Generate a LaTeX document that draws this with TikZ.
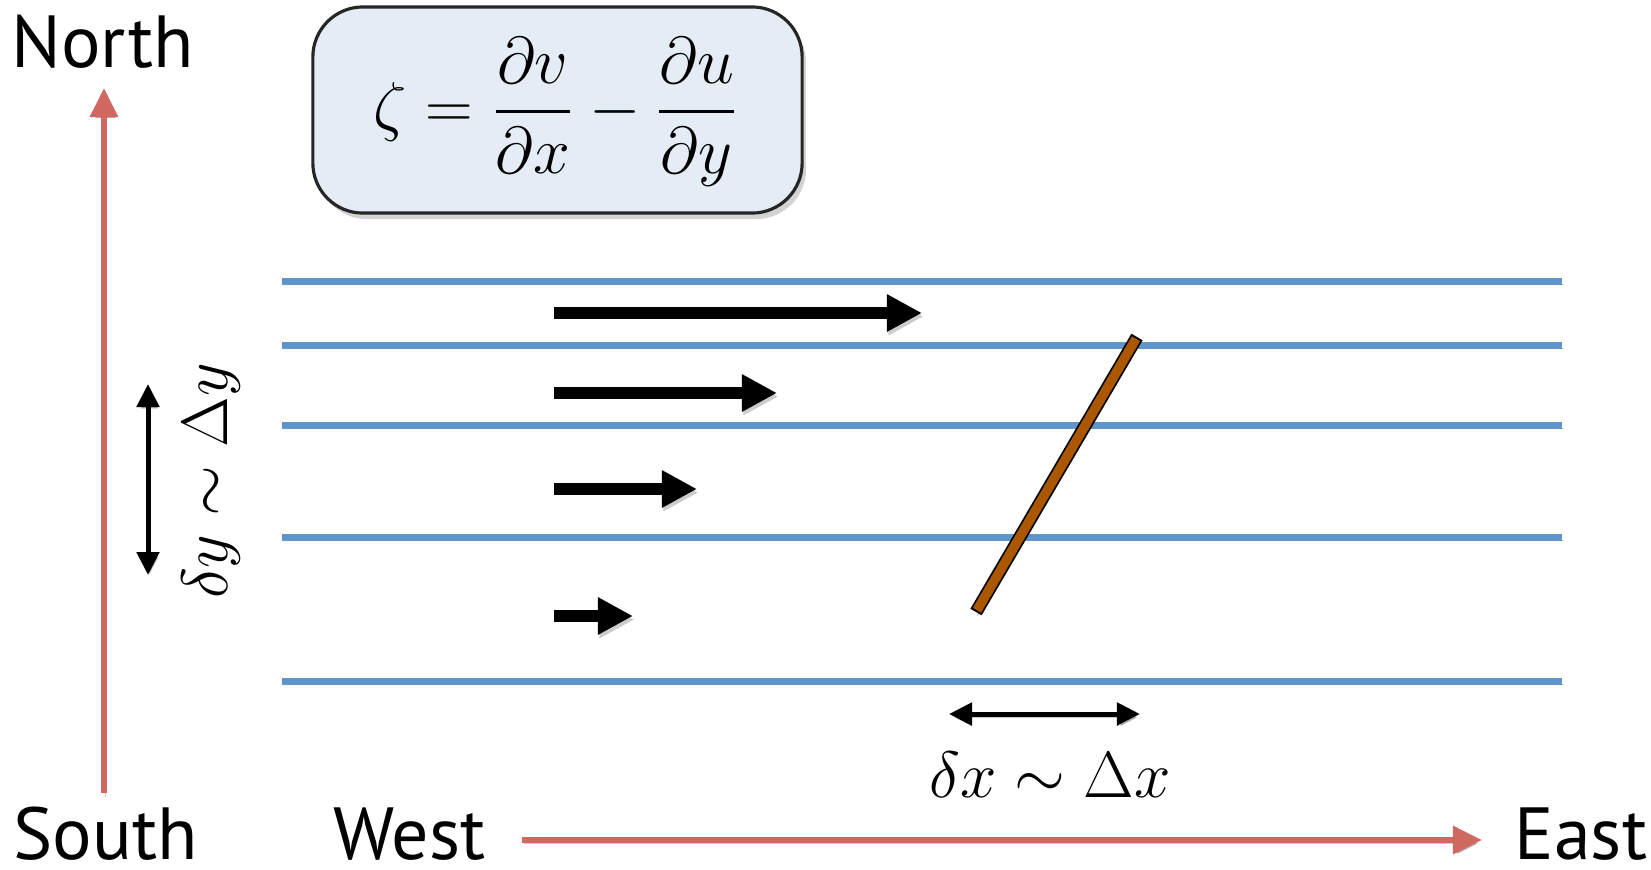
\RequirePackage{fix-cm}
\documentclass[tikz,border=0pt]{standalone}
\usepackage[no-math]{fontspec}
\setmainfont{PT Sans}
\usepackage{amsmath}
\usetikzlibrary{arrows.meta,shadows}
\definecolor{streamblue}{RGB}{95,149,203}
\definecolor{compassred}{RGB}{208,104,98}
\definecolor{stickbrown}{RGB}{170,87,0}
\definecolor{boxblue}{RGB}{228,236,245}
\begin{document}
\begin{tikzpicture}[x=0.01cm,y=-0.01cm]
\useasboundingbox (0,0) rectangle (1651,869);
\tikzset{
  softshadow/.style={preaction={draw=black,opacity=0.2,transform canvas={shift={(0.015cm,-0.035cm)}}}},
  stream/.style={line width=0.07cm, draw=streamblue, softshadow},
  flow/.style={line width=0.12cm, -{Triangle[length=0.35cm,width=0.35cm]}, softshadow},
  compass/.style={line width=0.06cm, draw=compassred, -{Triangle[length=0.29cm,width=0.27cm]}, softshadow},
  scalearrow/.style={line width=0.05cm, {Triangle[length=0.23cm,width=0.22cm]}-{Triangle[length=0.23cm,width=0.22cm]}, softshadow},
  dirlabel/.style={font=\fontsize{21}{25}\selectfont, anchor=base west, inner sep=0},
  mathlabel/.style={font=\fontsize{18.6}{22}\selectfont, inner sep=0},
}
% formula box
\node[draw=black!85, line width=0.9pt, rounded corners=0.5cm, fill=boxblue,
      minimum width=4.89cm, minimum height=2.06cm, inner sep=0,
      drop shadow={shadow xshift=0.04cm, shadow yshift=-0.06cm, opacity=0.35}] (box) at (557.5,110) {};
\node[mathlabel, font=\fontsize{18.8}{22}\selectfont] (formula) at (556,112) {$\displaystyle \zeta = \frac{\partial v}{\partial x} - \frac{\partial u}{\partial y}$};

% streamlines
\foreach \y [count=\i] in {281,345,425,537,681} {
  \coordinate (sl\i) at (282,\y);
  \coordinate (sr\i) at (1562,\y);
  \draw[stream] (sl\i) -- (sr\i);
}

% flow arrows
\foreach \y/\e [count=\i] in {313/922,393/777,489/697,616/633} {
  \coordinate (fa\i) at (554,\y);
  \coordinate (fb\i) at (\e,\y);
  \draw[flow] (fa\i) -- (fb\i);
}

% stick
\coordinate (stickA) at (976,612);
\coordinate (stickB) at (1137,337);
\draw[line width=0.13cm, draw=black, softshadow] (stickA) -- (stickB);
\draw[line width=0.095cm, draw=stickbrown, shorten <=0.02cm, shorten >=0.02cm] (stickA) -- (stickB);

% scale arrows
\coordinate (dyA) at (148,384);
\coordinate (dyB) at (148,575);
\draw[scalearrow] (dyA) -- (dyB);
\node[mathlabel, rotate=90] (dylab) at (211,481) {$\delta y \sim \Delta y$};

\coordinate (dxA) at (949,714);
\coordinate (dxB) at (1140,714);
\draw[scalearrow] (dxA) -- (dxB);
\node[mathlabel, anchor=base] (dxlab) at (1050,797) {$\delta x \sim \Delta x$};

% compass arrows
\coordinate (southpt) at (104,793);
\coordinate (northpt) at (104,88);
\draw[compass] (southpt) -- (northpt);
\coordinate (westpt) at (522,840);
\coordinate (eastpt) at (1482,840);
\draw[compass] (westpt) -- (eastpt);

\node[dirlabel] (north) at (11,67) {North};
\node[dirlabel] (south) at (13,859) {South};
\node[dirlabel] (west) at (333,859) {West};
\node[dirlabel] (east) at (1514,859) {East};
\end{tikzpicture}
\end{document}
